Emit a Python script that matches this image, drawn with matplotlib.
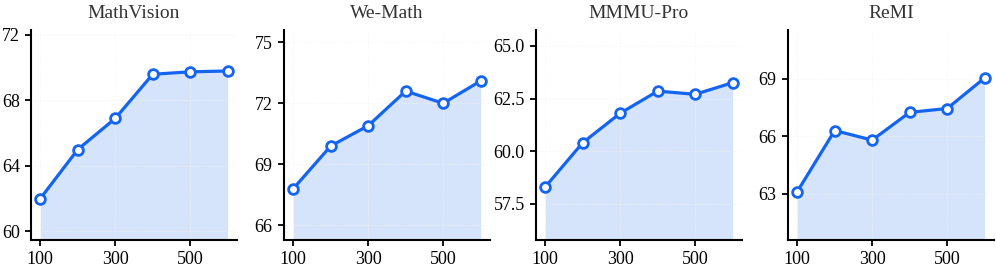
import matplotlib
matplotlib.use('Agg')
import matplotlib.pyplot as plt

plt.rcParams['font.family'] = ['Liberation Serif', 'DejaVu Serif']

# ===================== DATA =====================
steps = [100, 200, 300, 400, 500, 600]
xtick_vals = [100, 300, 500]

titles = ['MathVision', 'We-Math', 'MMMU-Pro', 'ReMI']

mathvision = [62.0, 65.0, 66.9, 69.6, 69.75, 69.8]
wemath = [67.8, 69.9, 70.9, 72.6, 72.0, 73.1]
mmmu_pro = [58.3, 60.4, 61.8, 62.85, 62.7, 63.25]
remi = [63.1, 66.3, 65.8, 67.25, 67.45, 69.05]

yticks_mathvision = [60, 64, 68, 72]
yticks_wemath = [66, 69, 72, 75]
yticks_mmmu = [57.5, 60.0, 62.5, 65.0]
yticks_remi = [63, 66, 69]

series = [mathvision, wemath, mmmu_pro, remi]
yticks = [yticks_mathvision, yticks_wemath, yticks_mmmu, yticks_remi]
ytick_fmt = ['{:.0f}', '{:.0f}', '{:.1f}', '{:.0f}']

LINE_COLOR = '#1464f2'
FILL_COLOR = '#d6e4fb'

# ===================== PLOT =====================
fig = plt.figure(figsize=(9.96, 2.71), dpi=100)
lefts = [0.031, 0.285, 0.538, 0.791]

for i, (vals, title) in enumerate(zip(series, titles)):
    ax = fig.add_axes([lefts[i], 0.116, 0.207, 0.773])
    lo = min(vals) - 2.5
    hi = max(vals) + 2.5

    ax.fill_between(steps, vals, lo, color=FILL_COLOR, lw=0, zorder=1)
    ax.plot(steps, vals, color=LINE_COLOR, lw=2.3, marker='o', ms=7,
            mfc='white', mec=LINE_COLOR, mew=2.0, zorder=3)

    ax.set_ylim(lo, hi)
    ax.set_xlim(75, 625)
    ax.set_xticks(xtick_vals)
    ax.set_yticks(yticks[i])
    ax.set_yticklabels([ytick_fmt[i].format(v) for v in yticks[i]])
    ax.set_title(title, fontsize=14, color='#333333', pad=9)

    ax.grid(True, color='#f2f2f2', lw=0.6, ls=':', zorder=0)
    for side in ['top', 'right']:
        ax.spines[side].set_visible(False)
    for side in ['left', 'bottom']:
        ax.spines[side].set_linewidth(1.5)
    ax.tick_params(axis='both', labelsize=13, width=1.3, length=4, pad=4)

plt.savefig('out.png', dpi=100)
